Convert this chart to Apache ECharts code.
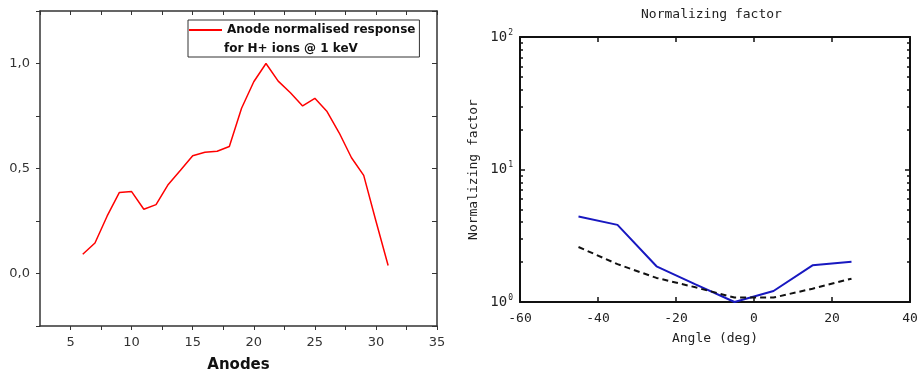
<!DOCTYPE html>
<html><head><meta charset="utf-8">
<script src="https://cdn.jsdelivr.net/npm/echarts@6/dist/echarts.min.js"></script>
<style>html,body{margin:0;padding:0;background:#fff}#c{width:923px;height:378px}</style>
</head><body><div id="c"></div>
<script>
// Left chart data
const anodes = [6,7,8,9,10,11,12,13,14,15,16,17,18,19,20,21,22,23,24,25,26,27,28,29,30,31];
const anodeResponse = [0.092,0.145,0.274,0.386,0.39,0.306,0.328,0.424,0.492,0.561,0.577,0.582,0.605,0.787,0.913,1.0,0.916,0.861,0.798,0.834,0.771,0.669,0.551,0.467,0.25,0.038];
const leftSeriesName = 'Anode normalised response';
const leftLegendLine2 = 'for H+ ions @ 1 keV';
// Right chart data
const angles = [-45,-35,-25,-15,-5,5,15,25];
const factorBlue = [4.42,3.82,1.86,1.36,1.0,1.21,1.89,2.01];
const factorDashed = [2.60,1.93,1.52,1.29,1.08,1.08,1.26,1.50];
const rightTitle = 'Normalizing factor';

const mono = 'DejaVu Sans Mono';
const sans = 'DejaVu Sans';
const chart = echarts.init(document.getElementById('c'));
const leftAxisColor = '#333';
chart.setOption({
  animation:false,
  title:{text:rightTitle, left:641, top:8, padding:0, textStyle:{fontFamily:mono, fontSize:13, fontWeight:'normal', color:'#222'}},
  legend:{left:188, top:20, padding:[4,4,21,1], itemWidth:33, itemHeight:2, itemGap:5, icon:'rect',
    borderColor:'#333', borderWidth:1, data:[leftSeriesName],
    textStyle:{fontFamily:sans, fontWeight:'bold', fontSize:12, color:'#111'}},
  graphic:[{type:'text', left:224, top:43, style:{text:leftLegendLine2, font:'bold 12px "DejaVu Sans"', fill:'#111'}}],
  grid:[
    {left:40, top:11, width:397, height:316},
    {left:520, top:37, width:390, height:265}
  ],
  xAxis:[
    {gridIndex:0, type:'value', min:2.5, max:35, interval:2.5, position:'bottom',
     name:'Anodes', nameLocation:'middle', nameGap:32, nameTextStyle:{fontFamily:sans, fontWeight:'bold', fontSize:15, color:'#111'},
     axisLine:{onZero:false, lineStyle:{color:leftAxisColor, width:1.5}}, axisTick:{inside:false, length:4, lineStyle:{color:leftAxisColor}},
     axisLabel:{margin:10, fontFamily:sans, fontSize:13, color:'#333', formatter:v=> (v%5===0? String(v):''), showMinLabel:false},
     splitLine:{show:false}},
    {gridIndex:0, type:'value', min:2.5, max:35, interval:2.5, position:'top',
     axisLine:{onZero:false, lineStyle:{color:leftAxisColor, width:1.5}}, axisTick:{inside:true, length:4, lineStyle:{color:leftAxisColor}},
     axisLabel:{show:false}, splitLine:{show:false}},
    {gridIndex:1, type:'value', min:-60, max:40, interval:20, position:'bottom',
     name:'Angle (deg)', nameLocation:'middle', nameGap:30, nameTextStyle:{fontFamily:mono, fontSize:13, color:'#222'},
     axisLine:{onZero:false, lineStyle:{color:'#111', width:2}}, axisTick:{inside:true, length:5, lineStyle:{color:'#111', width:1.5}},
     axisLabel:{margin:10, fontFamily:mono, fontSize:13, color:'#222'}, splitLine:{show:false}},
    {gridIndex:1, type:'value', min:-60, max:40, interval:20, position:'top',
     axisLine:{onZero:false, lineStyle:{color:'#111', width:2}}, axisTick:{inside:true, length:5, lineStyle:{color:'#111', width:1.5}},
     axisLabel:{show:false}, splitLine:{show:false}}
  ],
  yAxis:[
    {gridIndex:0, type:'value', min:-0.25, max:1.25, interval:0.25, position:'left',
     axisLine:{onZero:false, lineStyle:{color:leftAxisColor, width:1.5}}, axisTick:{inside:false, length:4, lineStyle:{color:leftAxisColor}},
     axisLabel:{margin:10, fontFamily:sans, fontSize:13, color:'#333',
       formatter:v=> (Math.abs(v*2-Math.round(v*2))<1e-9 && v>=0 && v<=1 ? v.toFixed(1).replace('.',',') : '')},
     splitLine:{show:false}},
    {gridIndex:0, type:'value', min:-0.25, max:1.25, interval:0.25, position:'right',
     axisLine:{onZero:false, lineStyle:{color:leftAxisColor, width:1.5}}, axisTick:{inside:true, length:5, lineStyle:{color:leftAxisColor}},
     axisLabel:{show:false}, splitLine:{show:false}},
    {gridIndex:1, type:'log', logBase:10, min:1, max:100, position:'left',
     name:'Normalizing factor', nameLocation:'middle', nameGap:40, nameTextStyle:{fontFamily:mono, fontSize:13, color:'#222'},
     axisLine:{onZero:false, lineStyle:{color:'#111', width:2}}, axisTick:{inside:true, length:5, lineStyle:{color:'#111', width:1.5}},
     minorTick:{show:true, splitNumber:9, length:3, lineStyle:{color:'#111', width:1.5}},
     axisLabel:{margin:7, fontFamily:mono, fontSize:14, color:'#222',
       formatter:v=>'10{s|'+Math.round(Math.log10(v))+'}',
       rich:{s:{fontFamily:mono, fontSize:8, color:'#222', verticalAlign:'bottom', padding:[0,0,9,1]}}},
     splitLine:{show:false}},
    {gridIndex:1, type:'log', logBase:10, min:1, max:100, position:'right',
     axisLine:{onZero:false, lineStyle:{color:'#111', width:2}}, axisTick:{inside:true, length:5, lineStyle:{color:'#111', width:1.5}},
     minorTick:{show:true, splitNumber:9, length:3, lineStyle:{color:'#111', width:1.5}},
     axisLabel:{show:false}, splitLine:{show:false}}
  ],
  series:[
    {name:leftSeriesName, type:'line', xAxisIndex:0, yAxisIndex:0, symbol:'none',
     data:anodes.map((a,i)=>[a,anodeResponse[i]]), lineStyle:{color:'#ff0000', width:1.5}, itemStyle:{color:'#ff0000'}},
    {name:'blue', type:'line', xAxisIndex:2, yAxisIndex:2, symbol:'none',
     data:angles.map((a,i)=>[a,factorBlue[i]]), lineStyle:{color:'#1818c0', width:2}},
    {name:'dashed', type:'line', xAxisIndex:2, yAxisIndex:2, symbol:'none',
     data:angles.map((a,i)=>[a,factorDashed[i]]), lineStyle:{color:'#111', width:2, type:[6,4]}}
  ]
});
</script></body></html>
